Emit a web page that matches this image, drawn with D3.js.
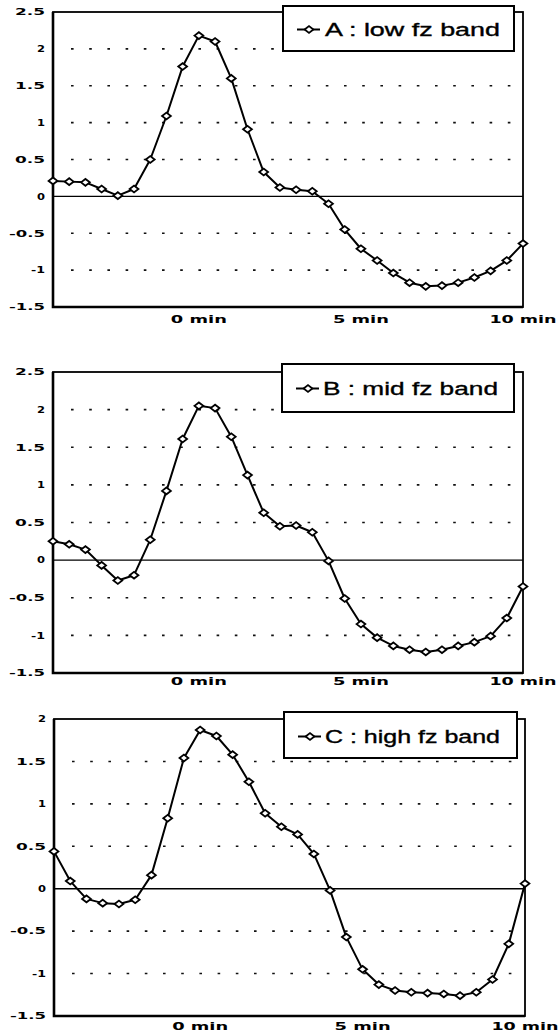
<!DOCTYPE html>
<html><head><meta charset="utf-8">
<script src="https://cdn.jsdelivr.net/npm/d3@7"></script>
<style>body{margin:0;background:#fff}svg{display:block}</style>
</head><body>
<svg id="c" width="558" height="1034"></svg>
<script>
// ---- data ----
const timeMin = [-4.5,-4,-3.5,-3,-2.5,-2,-1.5,-1,-0.5,0,0.5,1,1.5,2,2.5,3,3.5,4,4.5,5,5.5,6,6.5,7,7.5,8,8.5,9,9.5,10];
const seriesA = [0.21,0.20,0.19,0.10,0.01,0.10,0.50,1.09,1.76,2.18,2.10,1.60,0.91,0.33,0.12,0.09,0.07,-0.10,-0.45,-0.71,-0.87,-1.04,-1.17,-1.22,-1.21,-1.17,-1.10,-1.01,-0.87,-0.64];
const seriesB = [0.25,0.21,0.14,-0.07,-0.27,-0.20,0.27,0.92,1.61,2.05,2.02,1.64,1.13,0.63,0.45,0.46,0.37,-0.01,-0.51,-0.85,-1.03,-1.14,-1.19,-1.22,-1.19,-1.14,-1.09,-1.01,-0.77,-0.35];
const seriesC = [0.44,0.09,-0.12,-0.17,-0.18,-0.13,0.16,0.83,1.54,1.87,1.80,1.58,1.26,0.89,0.73,0.64,0.41,-0.02,-0.57,-0.95,-1.13,-1.20,-1.22,-1.23,-1.24,-1.26,-1.22,-1.07,-0.65,0.06];
const legendLabels = ["A : low fz band","B : mid fz band","C : high fz band"];
const yTicksAB = [2.5,2,1.5,1,0.5,0,-0.5,-1,-1.5];
const yTicksC = [2,1.5,1,0.5,0,-0.5,-1,-1.5];
const xTickValues = [0,5,10];
const xTickLabels = ["0 min","5 min","10 min"];

// ---- layout ----
const panels = [
  {values: seriesA, ticks: yTicksAB, label: legendLabels[0], box:{l:53,r:523,t:12,b:307}, leg:{x:283,y:6,w:231,h:45}, textX:325, textY:36, xLabY:323},
  {values: seriesB, ticks: yTicksAB, label: legendLabels[1], box:{l:53,r:523,t:372,b:673}, leg:{x:282,y:364,w:232,h:48}, textX:323, textY:395, xLabY:685},
  {values: seriesC, ticks: yTicksC, label: legendLabels[2], box:{l:54,r:525,t:719,b:1016}, leg:{x:284,y:712,w:233,h:46}, textX:325, textY:743, xLabY:1030}
];

const svg = d3.select("#c");
svg.append("rect").attr("width",558).attr("height",1034).attr("fill","#fff");

function yLabWidth(s){
  let w = 0;
  for (const ch of s){ if (ch === "-") w += 6; else if (ch === ".") w += 14; else w += 8; }
  return w;
}
const fmt = v => String(v);
const diamond = "M-4.4,0L0,-3.4L4.4,0L0,3.4Z";

panels.forEach(p => {
  const g = svg.append("g");
  const x = d3.scaleLinear().domain([timeMin[0], timeMin[timeMin.length-1]]).range([p.box.l, p.box.r]);
  const y = d3.scaleLinear().domain([d3.min(p.ticks), d3.max(p.ticks)]).range([p.box.b, p.box.t]);

  // dotted gridlines
  p.ticks.filter(t => t !== 0 && t !== d3.min(p.ticks) && t !== d3.max(p.ticks)).forEach(t => {
    g.append("line").attr("x1", p.box.l + 18).attr("x2", p.box.r - 11)
      .attr("y1", y(t)).attr("y2", y(t))
      .attr("stroke","#111").attr("stroke-width",1.6).attr("stroke-dasharray","2.6,15.6");
  });
  // zero line
  g.append("line").attr("x1", p.box.l).attr("x2", p.box.r).attr("y1", y(0)).attr("y2", y(0))
    .attr("stroke","#000").attr("stroke-width",1.4);

  // frame
  g.append("rect").attr("x",p.box.l).attr("y",p.box.t).attr("width",p.box.r-p.box.l).attr("height",p.box.b-p.box.t)
    .attr("fill","none").attr("stroke","#000").attr("stroke-width",1.8);
  g.append("path").attr("d",`M${p.box.l},${p.box.t}V${p.box.b}H${p.box.r}`)
    .attr("fill","none").attr("stroke","#000").attr("stroke-width",2.6);

  // y tick labels
  p.ticks.forEach(t => {
    const s = fmt(t), w = yLabWidth(s);
    g.append("text").attr("x", p.box.l - 8 - w).attr("y", y(t) + 3.3)
      .attr("textLength", w).attr("lengthAdjust","spacingAndGlyphs")
      .attr("font-family","DejaVu Sans").attr("font-weight","bold").attr("font-size",9)
      .attr("fill","#000").text(s);
  });

  // x tick labels
  xTickValues.forEach((v,i) => {
    const s = xTickLabels[i], w = 11.2 * s.length;
    g.append("text").attr("x", x(v) - w/2).attr("y", p.xLabY)
      .attr("textLength", w).attr("lengthAdjust","spacingAndGlyphs")
      .attr("font-family","DejaVu Sans").attr("font-weight","bold").attr("font-size",10)
      .attr("fill","#000").text(s);
  });

  // series line
  const line = d3.line().x((d,i) => x(timeMin[i])).y(d => y(d));
  g.append("path").datum(p.values).attr("d", line)
    .attr("fill","none").attr("stroke","#000").attr("stroke-width",2).attr("stroke-linejoin","round");
  g.selectAll(".m").data(p.values).enter().append("path")
    .attr("d", diamond)
    .attr("transform",(d,i) => `translate(${x(timeMin[i])},${y(d)})`)
    .attr("fill","#fff").attr("stroke","#000").attr("stroke-width",1.8);

  // legend
  g.append("rect").attr("x",p.leg.x).attr("y",p.leg.y).attr("width",p.leg.w).attr("height",p.leg.h)
    .attr("fill","#fff").attr("stroke","#000").attr("stroke-width",2);
  const my = p.textY - 6.5;
  g.append("line").attr("x1",p.leg.x+14).attr("x2",p.leg.x+37).attr("y1",my).attr("y2",my)
    .attr("stroke","#000").attr("stroke-width",2);
  g.append("path").attr("d",diamond).attr("transform",`translate(${p.leg.x+26},${my})`)
    .attr("fill","#fff").attr("stroke","#000").attr("stroke-width",1.8);
  g.append("text").attr("x",p.textX).attr("y",p.textY)
    .attr("textLength",175).attr("lengthAdjust","spacingAndGlyphs")
    .attr("font-family","Liberation Sans, Arial, sans-serif").attr("font-size",17.5)
    .attr("stroke","#000").attr("stroke-width",0.35)
    .attr("fill","#000").text(p.label);
});
</script>
</body></html>
